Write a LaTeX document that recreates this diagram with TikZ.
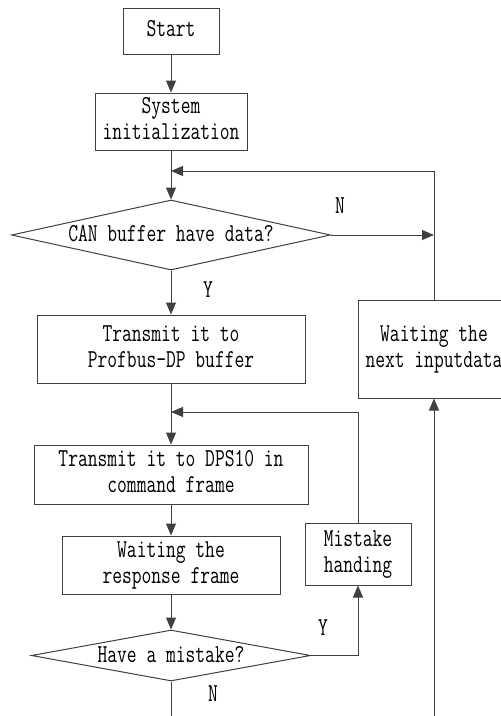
\documentclass[tikz,border=0pt]{standalone}
\usetikzlibrary{shapes.geometric,arrows.meta,calc}
\newcommand{\tx}[1]{\scalebox{1}[1.36]{\begin{tabular}{@{}c@{}}#1\end{tabular}}}
\begin{document}
\begin{tikzpicture}[x=1pt,y=1pt,
  every node/.style={font=\ttfamily\fontsize{19}{19}\selectfont\renewcommand{\arraystretch}{1}, text=black},
  procbox/.style={draw=black!75, line width=1pt, rectangle, inner sep=0pt, align=center},
  decbox/.style={draw=black!75, line width=1pt, diamond, inner sep=0pt, text height=15pt, text depth=0pt},
  conn/.style={draw=black!75, line width=1pt},
  arr/.style={conn, -{Triangle[width=10pt,length=12pt]}},
  lbl/.style={inner sep=0pt}
]
\useasboundingbox (0,0) rectangle (501,-716);
\clip (0,0) rectangle (501,-716);
\node[procbox, minimum width=96pt, minimum height=46pt] (start) at (171,-31) {\tx{Start}};
\node[procbox, minimum width=152pt, minimum height=57pt] (init) at (171,-121.5) {\tx{System\\initialization}};
\node[decbox, aspect=4.56, minimum width=319pt, minimum height=70pt] (can) at (171,-235) {\tx{CAN buffer have data?}};
\node[procbox, minimum width=268pt, minimum height=68pt] (tr1) at (171,-349) {\tx{Transmit it to\\Profbus-DP buffer}};
\node[procbox, minimum width=152pt, minimum height=98pt] (waitnext) at (434,-349) {\raisebox{10pt}{\tx{Waiting the\\next inputdata}}};
\node[procbox, minimum width=274pt, minimum height=59pt] (tr2) at (171,-474.5) {\tx{Transmit it to DPS10 in\\command frame}};
\node[procbox, minimum width=218pt, minimum height=58pt] (waitresp) at (171,-565) {\tx{Waiting the\\response frame}};
\node[procbox, minimum width=106pt, minimum height=62pt] (mist) at (358,-554) {\tx{Mistake\\handing}};
\node[decbox, aspect=5.47, minimum width=279pt, minimum height=51pt] (dec2) at (171,-655.5) {\tx{Have a mistake?}};

\coordinate (j1) at (171,-171);
\coordinate (j3) at (171,-412);
\coordinate (bl) at (171,-716);
\coordinate (br) at (434,-716);

\draw[arr] (start.south) -- (init.north);
\draw[arr] (init.south) -- (can.north);
\draw[arr] (waitnext.north) |- (j1);
\draw[arr] (can.east) -- (can.east -| waitnext.north);
\draw[arr] (can.south) -- (tr1.north);
\draw[arr] (tr1.south) -- (tr2.north);
\draw[arr] (mist.north) |- (j3);
\draw[arr] (tr2.south) -- (waitresp.north);
\draw[arr] (waitresp.south) -- (dec2.north);
\draw[arr] (dec2.east) -| (mist.south);
\draw[conn] (dec2.south) -- (bl);
\draw[arr] (br) -- (waitnext.south);

\node[lbl] (lN1) at (340,-208) {\tx{N}};
\node[lbl] (lY1) at (208,-292) {\tx{Y}};
\node[lbl] (lY2) at (323,-630) {\tx{Y}};
\node[lbl] (lN2) at (213,-696) {\tx{N}};
\end{tikzpicture}
\end{document}
